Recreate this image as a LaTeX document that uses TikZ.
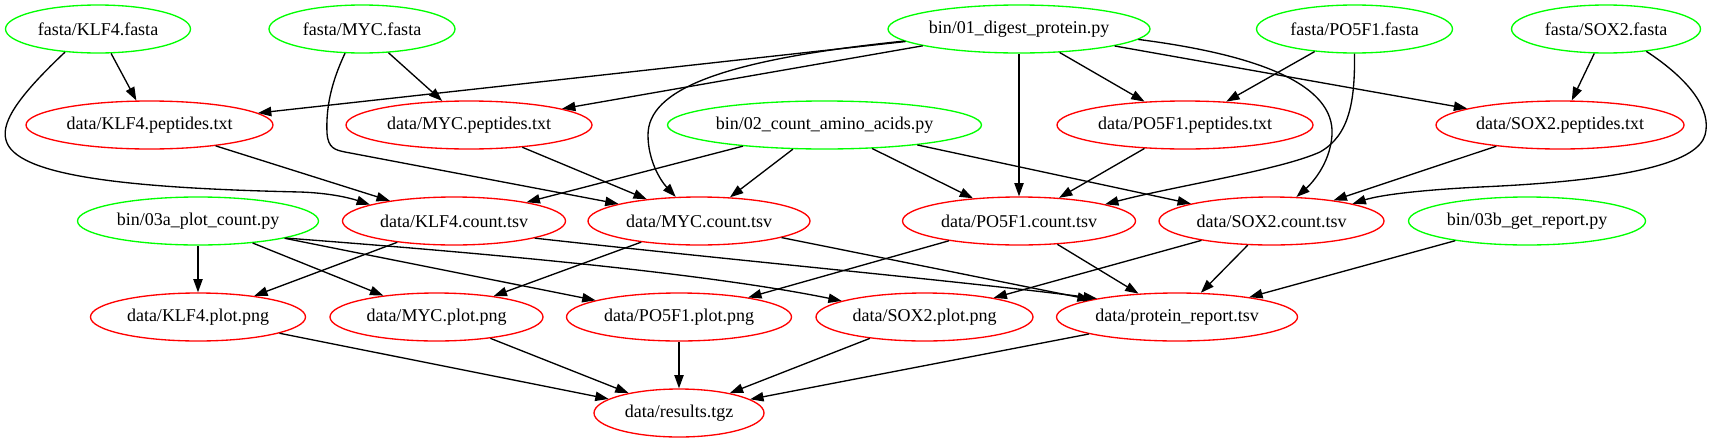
\documentclass[tikz,border=0pt]{standalone}
\usepackage{fontspec}
\setmainfont{Liberation Serif}
\usetikzlibrary{arrows.meta,shapes.geometric}

\begin{document}
\begin{tikzpicture}
[x=0.75pt,y=-0.75pt,
infile/.style={ellipse,draw=green,line width=1pt,inner sep=0pt,
minimum height=36pt,font=\fontsize{13.5}{16}\selectfont},
outfile/.style={infile,draw=red},
wd/.style={minimum width=#1*0.75pt},
pre/.style={<-,>={Triangle[length=10pt,width=7pt]},line width=1pt},
post/.style={->,>={Triangle[length=10pt,width=7pt]},line width=1pt}]

\useasboundingbox (0,0) rectangle (1712,443);

% inputs and scripts on top
\node[infile,wd=185] (klffa) at (98,29) {fasta/KLF4.fasta};
\node[infile,wd=186] (mycfa) at (362,29) {fasta/MYC.fasta};
\node[infile,wd=262] (digest) at (1019,29) {bin/01\_digest\_protein.py};
\node[infile,wd=196] (pofa) at (1354.5,29) {fasta/PO5F1.fasta};
\node[infile,wd=189] (soxfa) at (1606,29) {fasta/SOX2.fasta};

% peptides
\node[outfile,wd=247] (klfpep) at (149.5,125) {data/KLF4.peptides.txt}
	edge [pre] (klffa)
	edge [pre] (digest);
\node[outfile,wd=246] (mycpep) at (469,125) {data/MYC.peptides.txt}
	edge [pre] (mycfa)
	edge [pre] (digest);
\node[infile,wd=314] (countaa) at (824.5,125) {bin/02\_count\_amino\_acids.py};
\node[outfile,wd=256] (popep) at (1185,125) {data/PO5F1.peptides.txt}
	edge [pre] (digest)
	edge [pre] (pofa);
\node[outfile,wd=248] (soxpep) at (1560,125) {data/SOX2.peptides.txt}
	edge [pre] (digest)
	edge [pre] (soxfa);

% counts
\node[infile,wd=241] (plota) at (198,221) {bin/03a\_plot\_count.py};
\node[outfile,wd=223] (klfcnt) at (454,221) {data/KLF4.count.tsv}
	edge [pre] (klfpep)
	edge [pre] (countaa);
\node[outfile,wd=222] (myccnt) at (699,221) {data/MYC.count.tsv}
	edge [pre] (mycpep)
	edge [pre] (countaa);
\node[outfile,wd=233] (pocnt) at (1019,221) {data/PO5F1.count.tsv}
	edge [pre] (digest)
	edge [pre] (popep)
	edge [pre] (countaa);
\node[outfile,wd=225] (soxcnt) at (1271.5,221) {data/SOX2.count.tsv}
	edge [pre] (soxpep)
	edge [pre] (countaa);
\node[infile,wd=237] (getrep) at (1527,221) {bin/03b\_get\_report.py};

% curved edges, the fasta files skip the peptides row
\draw[post] (klffa.215) .. controls (25,90) and (0,120) .. (6,140)
	.. controls (15,175) and (120,188) .. (300,192)
	.. controls (330,193) and (350,198) .. (klfcnt.169);
\draw[post] (mycfa.235) .. controls (330,85) and (326,110) .. (327,133)
	.. controls (328,148) and (335,150) .. (345,152) -- (myccnt.168);
\draw[post] (digest.186) .. controls (720,60) and (648,90) .. (648,135)
	.. controls (648,160) and (660,180) .. (myccnt.134);
\draw[post] (pofa.south) .. controls (1355,100) and (1350,135) .. (1320,152)
	.. controls (1280,170) and (1180,185) .. (pocnt.11);
\draw[post] (digest.-5) .. controls (1260,55) and (1335,85) .. (1332,135)
	.. controls (1330,165) and (1310,185) .. (soxcnt.44);
\draw[post] (soxfa.-29) .. controls (1690,80) and (1712,110) .. (1705,135)
	.. controls (1698,160) and (1640,180) .. (1480,187)
	.. controls (1420,190) and (1380,195) .. (soxcnt.12);

% plots and report
\node[outfile,wd=215] (klfplot) at (198,317) {data/KLF4.plot.png}
	edge [pre] (plota)
	edge [pre] (klfcnt);
\node[outfile,wd=213] (mycplot) at (436.5,317) {data/MYC.plot.png}
	edge [pre] (plota)
	edge [pre] (myccnt);
\node[outfile,wd=225] (poplot) at (679,317) {data/PO5F1.plot.png}
	edge [pre] (plota)
	edge [pre] (pocnt);
\node[outfile,wd=217] (soxplot) at (924.5,317) {data/SOX2.plot.png}
	edge [pre] (soxcnt);
\node[outfile,wd=241] (protrep) at (1177,317) {data/protein\_report.tsv}
	edge [pre] (myccnt)
	edge [pre] (pocnt)
	edge [pre] (soxcnt)
	edge [pre] (getrep);

\draw[post] (plota.-11) .. controls (470,252) and (700,272) .. (soxplot.169);
\draw[post] (klfcnt.-12) .. controls (750,262) and (950,280) .. (protrep.167);

% archive
\node[outfile,wd=170] (results) at (679,413) {data/results.tgz}
	edge [pre] (klfplot)
	edge [pre] (mycplot)
	edge [pre] (poplot)
	edge [pre] (soxplot)
	edge [pre] (protrep);

\end{tikzpicture}
\end{document}
